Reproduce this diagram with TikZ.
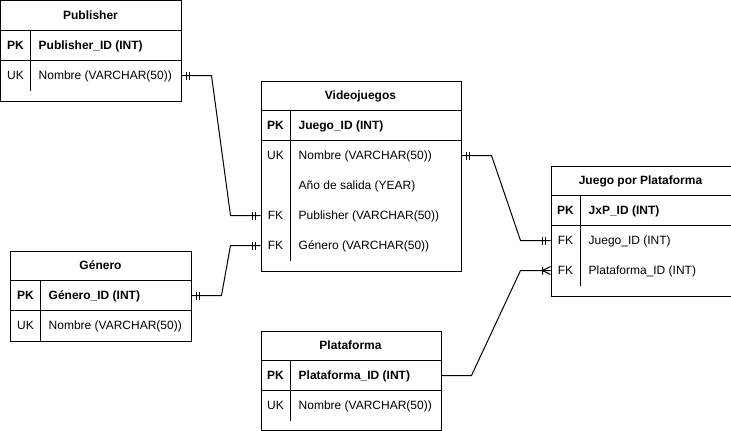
\documentclass[tikz,border=0pt]{standalone}
\usepackage{fontspec}
\setmainfont{Liberation Sans}
\usetikzlibrary{calc,positioning}

\tikzset{
  tbl/.style={draw, line width=1pt, anchor=north west, inner sep=0pt},
  txt/.style={inner sep=0pt, text height=8.6pt, text depth=0pt, font=\fontsize{12}{14}\selectfont},
  hdr/.style={txt, font=\fontsize{12}{14}\selectfont\bfseries},
  fld/.style={txt, anchor=west},
  bfld/.style={fld, font=\fontsize{12}{14}\selectfont\bfseries},
  rel/.style={line width=1pt},
  onemark/.pic={\draw[rel] (-5,-4) -- (-5,4) (-8,-4) -- (-8,4);},
  manymark/.pic={\draw[rel] (-8,-4) -- (-8,4) (0,-4) -- (-8,0) -- (0,4);}
}

\begin{document}
\begin{tikzpicture}[x=1pt, y=-1pt]
\useasboundingbox (-0.5,-0.5) rectangle (730.5,430.5);

\node[tbl, minimum width=180, minimum height=100] (publisher) at (0,0) {};
\node[hdr] (publisherT) at (90,15) {Publisher};
\draw[rel] (0,30) -- (180,30) (0,60) -- (180,60) (30,30) -- (30,90);
\node[hdr] at (15,45) {PK};
\node[bfld] (pubID) at (38,45) {Publisher\_ID (INT)};
\node[txt] at (15,75) {UK};
\node[fld] (pubNom) at (38,75) {Nombre (VARCHAR(50))};

\node[tbl, minimum width=200, minimum height=190] (videojuegos) at (260,80) {};
\node[hdr] (videojuegosT) at (360,95) {Videojuegos};
\draw[rel] (260,110) -- (460,110) (260,140) -- (460,140) (290,110) -- (290,260);
\node[hdr] at (275,125) {PK};
\node[bfld] (vgID) at (298,125) {Juego\_ID (INT)};
\node[txt] at (275,155) {UK};
\node[fld] (vgNom) at (298,155) {Nombre (VARCHAR(50))};
\node[fld] (vgAnio) at (298,185) {Año de salida (YEAR)};
\node[txt] at (275,215) {FK};
\node[fld] (vgPub) at (298,215) {Publisher (VARCHAR(50))};
\node[txt] at (275,245) {FK};
\node[fld] (vgGen) at (298,245) {Género (VARCHAR(50))};

\node[tbl, minimum width=180, minimum height=130] (jxp) at (550,165) {};
\node[hdr] (jxpT) at (640,180) {Juego por Plataforma};
\draw[rel] (550,195) -- (730,195) (550,225) -- (730,225) (580,195) -- (580,285);
\node[hdr] at (565,210) {PK};
\node[bfld] (jxpID) at (588,210) {JxP\_ID (INT)};
\node[txt] at (565,240) {FK};
\node[fld] (jxpJuego) at (588,240) {Juego\_ID (INT)};
\node[txt] at (565,270) {FK};
\node[fld] (jxpPlat) at (588,270) {Plataforma\_ID (INT)};

\node[tbl, minimum width=180, minimum height=90] (genero) at (10,250) {};
\node[hdr] (generoT) at (100,265) {Género};
\draw[rel] (10,280) -- (190,280) (10,310) -- (190,310) (40,280) -- (40,340);
\node[hdr] at (25,295) {PK};
\node[bfld] (genID) at (48,295) {Género\_ID (INT)};
\node[txt] at (25,325) {UK};
\node[fld] (genNom) at (48,325) {Nombre (VARCHAR(50))};

\node[tbl, minimum width=180, minimum height=99] (plataforma) at (260,330) {};
\node[hdr] (plataformaT) at (350,345) {Plataforma};
\draw[rel] (260,360) -- (440,360) (260,390) -- (440,390) (290,360) -- (290,420);
\node[hdr] at (275,375) {PK};
\node[bfld] (platID) at (298,375) {Plataforma\_ID (INT)};
\node[txt] at (275,405) {UK};
\node[fld] (platNom) at (298,405) {Nombre (VARCHAR(50))};

\draw[rel] (pubNom -| publisher.east) -- ++(30,0) -- ($(vgPub -| videojuegos.west)+(-30,0)$) -- (vgPub -| videojuegos.west);
\draw[rel] (genID -| genero.east) -- ++(30,0) -- ($(vgGen -| videojuegos.west)+(-30,0)$) -- (vgGen -| videojuegos.west);
\draw[rel] (vgNom -| videojuegos.east) -- ++(30,0) -- ($(jxpJuego -| jxp.west)+(-30,0)$) -- (jxpJuego -| jxp.west);
\draw[rel] (platID -| plataforma.east) -- ++(30,0) -- ($(jxpPlat -| jxp.west)+(-30,0)$) -- (jxpPlat -| jxp.west);

\pic[rotate=180] at (pubNom -| publisher.east) {onemark};
\pic at (vgPub -| videojuegos.west) {onemark};
\pic[rotate=180] at (genID -| genero.east) {onemark};
\pic at (vgGen -| videojuegos.west) {onemark};
\pic[rotate=180] at (vgNom -| videojuegos.east) {onemark};
\pic at (jxpJuego -| jxp.west) {onemark};
\pic at (jxpPlat -| jxp.west) {manymark};
\end{tikzpicture}
\end{document}
